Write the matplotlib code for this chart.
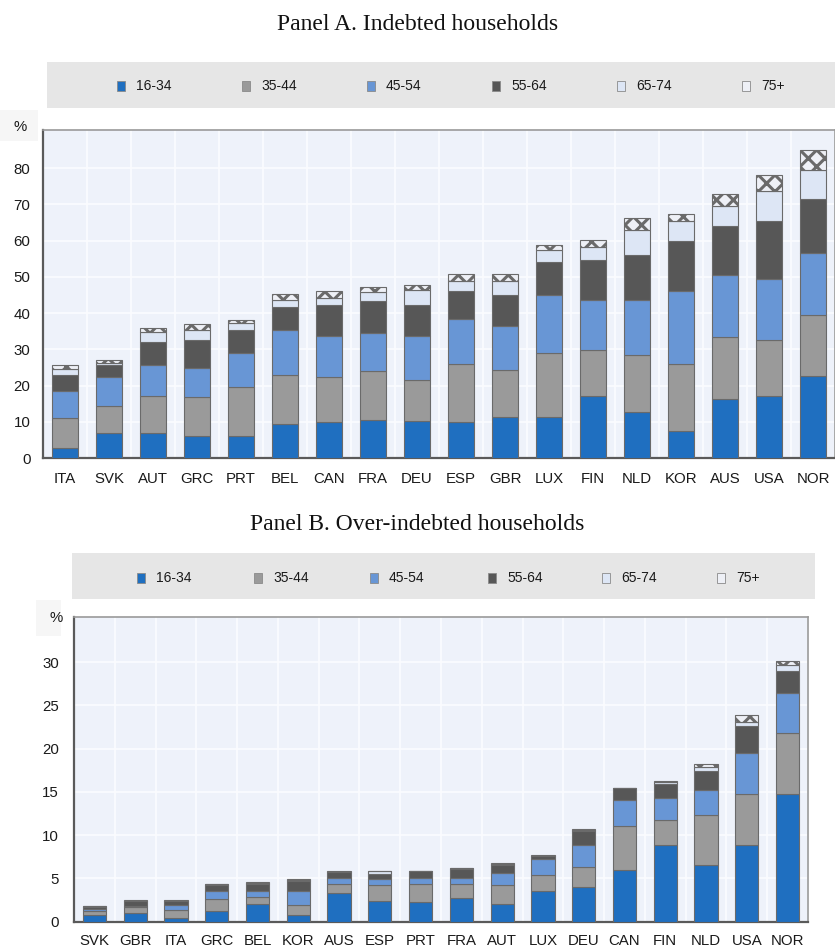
import matplotlib
matplotlib.use("Agg")
import matplotlib.pyplot as plt
import numpy as np
from matplotlib import font_manager
from matplotlib.patches import Rectangle

# ---------------- data ----------------
age_groups = ["16-34", "35-44", "45-54", "55-64", "65-74", "75+"]

countries_a = ["ITA", "SVK", "AUT", "GRC", "PRT", "BEL", "CAN", "FRA", "DEU",
               "ESP", "GBR", "LUX", "FIN", "NLD", "KOR", "AUS", "USA", "NOR"]
a_16_34 = [2.8, 6.9, 6.9, 6.0, 6.2, 9.5, 9.8, 10.6, 10.1, 9.8, 11.2, 11.2, 17.2, 12.6, 7.4, 16.3, 17.0, 22.5]
a_35_44 = [8.2, 7.5, 10.1, 10.7, 13.4, 13.5, 12.5, 13.3, 11.5, 16.1, 13.0, 17.8, 12.5, 15.9, 18.6, 17.0, 15.6, 17.0]
a_45_54 = [7.6, 7.9, 8.6, 8.1, 9.4, 12.4, 11.4, 10.6, 12.1, 12.4, 12.1, 16.1, 13.8, 15.2, 20.2, 17.1, 16.9, 17.2]
a_55_64 = [4.4, 3.4, 6.4, 7.7, 6.2, 6.4, 8.6, 8.7, 8.6, 7.9, 8.8, 8.9, 11.0, 12.4, 13.6, 13.5, 15.8, 14.8]
a_65_74 = [1.6, 0.5, 2.7, 2.7, 2.0, 1.9, 1.8, 2.5, 4.1, 2.5, 3.6, 3.5, 3.6, 6.9, 5.5, 5.7, 8.3, 8.0]
a_75 = [1.0, 0.9, 1.2, 1.9, 1.0, 1.5, 1.9, 1.5, 1.4, 2.1, 2.2, 1.2, 2.1, 3.2, 2.1, 3.2, 4.6, 5.6]

countries_b = ["SVK", "GBR", "ITA", "GRC", "BEL", "KOR", "AUS", "ESP", "PRT",
               "FRA", "AUT", "LUX", "DEU", "CAN", "FIN", "NLD", "USA", "NOR"]
b_16_34 = [0.8, 1.0, 0.45, 1.2, 2.0, 0.8, 3.3, 2.4, 2.3, 2.7, 2.0, 3.5, 4.0, 6.0, 8.9, 6.6, 8.9, 14.7]
b_35_44 = [0.4, 0.7, 0.95, 1.4, 0.9, 1.1, 1.1, 1.8, 2.1, 1.7, 2.2, 1.9, 2.3, 5.1, 2.9, 5.7, 5.9, 7.1]
b_45_54 = [0.25, 0.15, 0.5, 0.9, 0.7, 1.6, 0.7, 0.7, 0.7, 0.7, 1.4, 1.9, 2.6, 3.0, 2.5, 2.9, 4.7, 4.6]
b_55_64 = [0.3, 0.5, 0.45, 0.7, 0.75, 1.2, 0.6, 0.6, 0.7, 0.95, 1.0, 0.25, 1.6, 1.3, 1.6, 2.2, 3.1, 2.6]
b_65_74 = [0.05, 0.05, 0.05, 0.1, 0.1, 0.1, 0.05, 0.3, 0.05, 0.1, 0.1, 0.05, 0.1, 0.05, 0.2, 0.5, 0.5, 0.6]
b_75 = [0.0, 0.05, 0.05, 0.1, 0.1, 0.1, 0.05, 0.1, 0.05, 0.1, 0.1, 0.05, 0.1, 0.05, 0.1, 0.3, 0.8, 0.5]

yticks_a = [0, 10, 20, 30, 40, 50, 60, 70, 80]
yticks_b = [0, 5, 10, 15, 20, 25, 30]

# ---------------- style ----------------
colors = ["#1f6fc0", "#9a9a9a", "#6896d5", "#575757", "#dde6f5", "#eef0f6"]
hatches = [None, None, None, None, None, "xx"]
edge = "#6a6a6a"
plot_bg = "#eef2fa"
band_bg = "#e6e6e6"

names = {f.name for f in font_manager.fontManager.ttflist}
if "Liberation Sans Narrow" in names:
    sans = "Liberation Sans Narrow"
    tick_fs, leg_fs = 12.5, 11.5
else:
    sans = "Liberation Sans"
    tick_fs, leg_fs = 10.8, 10.0
serif = "Liberation Serif"

plt.rcParams["font.family"] = [sans, "DejaVu Sans"]
plt.rcParams["hatch.linewidth"] = 2.2

W, H = 835, 950
fig = plt.figure(figsize=(W / 100, H / 100), dpi=100)


def fx(x):
    return x / W


def fy(y):
    return 1 - y / H


def add_rect(x0, y0, x1, y1, **kw):
    fig.patches.append(Rectangle((fx(x0), fy(y1)), fx(x1) - fx(x0), fy(y0) - fy(y1),
                                 transform=fig.transFigure, **kw))


def draw_panel(rect_px, countries, series, ylim, yticks, bar_w, ypad, xpad):
    x0, y0, x1, y1 = rect_px
    ax = fig.add_axes([fx(x0), fy(y1), fx(x1) - fx(x0), fy(y0) - fy(y1)])
    ax.set_facecolor(plot_bg)
    n = len(countries)
    x = np.arange(n)
    bottom = np.zeros(n)
    for vals, c, h in zip(series, colors, hatches):
        v = np.array(vals, dtype=float)
        ax.bar(x, v, bottom=bottom, width=bar_w, color=c, edgecolor=edge,
               linewidth=0.8, hatch=h, zorder=3)
        bottom += v
    ax.set_xlim(-0.5, n - 0.5)
    ax.set_ylim(*ylim)
    ax.set_yticks(yticks)
    ax.set_xticks(x)
    ax.set_xticklabels(countries)
    ax.set_xticks(np.arange(n + 1) - 0.5, minor=True)
    ax.grid(True, axis="y", which="major", color="#fbfcff", linewidth=1.2, zorder=1)
    ax.grid(True, axis="x", which="minor", color="#fbfcff", linewidth=1.2, zorder=1)
    ax.grid(False, axis="x", which="major")
    ax.tick_params(axis="both", which="both", length=0, labelsize=tick_fs,
                   colors="#1a1a1a")
    ax.tick_params(axis="y", pad=ypad)
    ax.tick_params(axis="x", pad=xpad)
    for s in ("left", "bottom"):
        ax.spines[s].set_color("#5a5a5a")
        ax.spines[s].set_linewidth(1.6)
    for s in ("top", "right"):
        ax.spines[s].set_color("#9a9a9a")
        ax.spines[s].set_linewidth(1.2)
    return ax


def draw_legend(band_px, marker_xs, yc):
    bx0, by0, bx1, by1 = band_px
    add_rect(bx0, by0, bx1, by1, facecolor=band_bg, edgecolor="none", zorder=0)
    for mx, lab, c, h in zip(marker_xs, age_groups, colors, hatches):
        add_rect(mx, yc - 5, mx + 8, yc + 5, facecolor=c, edgecolor="#8a8a8a",
                 linewidth=0.6, zorder=2)
        fig.text(fx(mx + 19), fy(yc), lab, fontsize=leg_fs, va="center", ha="left",
                 color="#1a1a1a")


# ---------------- Panel A ----------------
fig.text(0.5, fy(24), "Panel A. Indebted households", ha="center", va="center",
         fontsize=17, family=serif, color="#111111")
draw_legend((47, 62, 835, 108), [117, 242, 367, 492, 617, 742], 86)
add_rect(0, 110, 38, 141, facecolor="#f6f6f6", edgecolor="none", zorder=0)
fig.text(fx(20), fy(127), "%", ha="center", va="center", fontsize=tick_fs, color="#1a1a1a")
draw_panel((43, 130, 835, 458), countries_a,
           [a_16_34, a_35_44, a_45_54, a_55_64, a_65_74, a_75],
           (0, 90.5), yticks_a, 0.6, 9, 10)

# ---------------- Panel B ----------------
fig.text(0.5, fy(524), "Panel B. Over-indebted households", ha="center", va="center",
         fontsize=17, family=serif, color="#111111")
draw_legend((72, 553, 815, 599), [137, 254, 370, 488, 602, 717], 578)
add_rect(36, 600, 61, 636, facecolor="#f6f6f6", edgecolor="none", zorder=0)
fig.text(fx(56), fy(618), "%", ha="center", va="center", fontsize=tick_fs, color="#1a1a1a")
draw_panel((74, 617, 808, 921.7), countries_b,
           [b_16_34, b_35_44, b_45_54, b_55_64, b_65_74, b_75],
           (0, 35.2), yticks_b, 0.57, 11, 9)

fig.savefig("out.png", dpi=100, facecolor="white")
